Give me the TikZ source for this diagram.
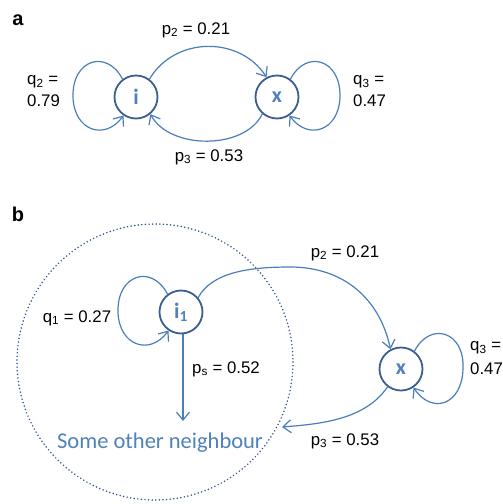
\documentclass[tikz,border=0pt]{standalone}
\usepackage{fontspec}
\setmainfont{Liberation Sans}
\newfontfamily\calibri{Carlito}
\usetikzlibrary{arrows.meta}
\definecolor{edgec}{HTML}{4A7EBB}
\definecolor{ringc}{HTML}{3A5F8E}
\definecolor{labc}{HTML}{4F81BD}
\definecolor{dotc}{HTML}{2F5597}
\tikzset{
  state/.style={circle, draw=ringc, line width=1.8pt, minimum size=43pt, inner sep=0pt,
    font=\calibri\bfseries\fontsize{22}{24}\selectfont, text=labc},
  edge/.style={draw=edgec, line width=1.2pt, -{Straight Barb[length=8pt,width=13pt]}},
  lbl/.style={font=\fontsize{16.8}{18}\selectfont, inner sep=0pt},
  panel/.style={font=\bfseries\fontsize{20}{22}\selectfont, inner sep=0pt},
}
\begin{document}
\begin{tikzpicture}[x=1pt,y=-1pt]
\useasboundingbox (0,0) rectangle (503,504);
\clip (0,0) rectangle (503,504);
% ---------------- panel a
\node[panel] (pa) at (18,20) {a};
\node[state] (i) at (136,97) {i};
\node[state] (x) at (277,97) {x};
\draw[edge] (i.53) .. controls (175,36) and (240,36) .. (x.118);
\draw[edge] (x.229) .. controls (245,150) and (170,150) .. (i.310);
\begin{scope}[shift={(136,97)}]
\draw[edge] (i.127) .. controls (-29,-48) and (-64,-38) .. (-63,0) .. controls (-62,34) and (-31,44) .. (i.236);
\end{scope}
\begin{scope}[shift={(277,97)}]
\draw[edge] (x.53) .. controls (29,-48) and (64,-38) .. (63,0) .. controls (62,34) and (31,44) .. (x.304);
\end{scope}
\node[lbl] (pa2) at (196,30) {p\textsubscript{2} = 0.21};
\node[lbl] (pa3) at (209,157) {p\textsubscript{3} = 0.53};
\node[lbl, anchor=west] (qa2) at (27,82) {q\textsubscript{2} =};
\node[lbl, anchor=west] (qa2v) at (27,101) {0.79};
\node[lbl, anchor=west] (qa3) at (353,82) {q\textsubscript{3} =};
\node[lbl, anchor=west] (qa3v) at (353,101) {0.47};
% ---------------- panel b
\node[panel] (pb) at (18,214) {b};
\draw[dotc, line width=1.7pt, dash pattern=on 0pt off 3.6pt, line cap=round] (155,362) circle[radius=138];
\node[state] (i1) at (181,312) {i\textsubscript{1}};
\node[state] (xb) at (401,369) {x};
\begin{scope}[shift={(181,312)}]
\draw[edge] (i1.127) .. controls (-29,-48) and (-64,-38) .. (-63,0) .. controls (-62,34) and (-31,44) .. (i1.236);
\end{scope}
\begin{scope}[shift={(401,369)}]
\draw[edge] (xb.53) .. controls (29,-48) and (64,-38) .. (62,0) .. controls (61,36) and (31,46) .. (xb.304);
\end{scope}
\coordinate (mid2) at (290,267);
\draw[edge] (i1.40) .. controls (212,272) and (250,267) .. (mid2) .. controls (345,267) and (380,300) .. (xb.118);
\coordinate (psend) at (183,421);
\draw[edge] (i1.south -| psend) -- (psend);
\coordinate (p3end) at (282,427);
\draw[edge] (xb.233) .. controls (365,420) and (320,424) .. (p3end);
\node[font=\calibri\fontsize{22.5}{24}\selectfont, text=labc, inner sep=0pt] (nbr) at (160,443) {Some other neighbour};
\node[lbl] (pb2) at (345,253) {p\textsubscript{2} = 0.21};
\node[lbl] (pbs) at (226,369) {p\textsubscript{s} = 0.52};
\node[lbl] (pb3) at (345,441) {p\textsubscript{3} = 0.53};
\node[lbl] (qb1) at (77,318) {q\textsubscript{1} = 0.27};
\node[lbl, anchor=west] (qb3) at (470,348) {q\textsubscript{3} =};
\node[lbl, anchor=west] (qb3v) at (470,369) {0.47};
\end{tikzpicture}
\end{document}
